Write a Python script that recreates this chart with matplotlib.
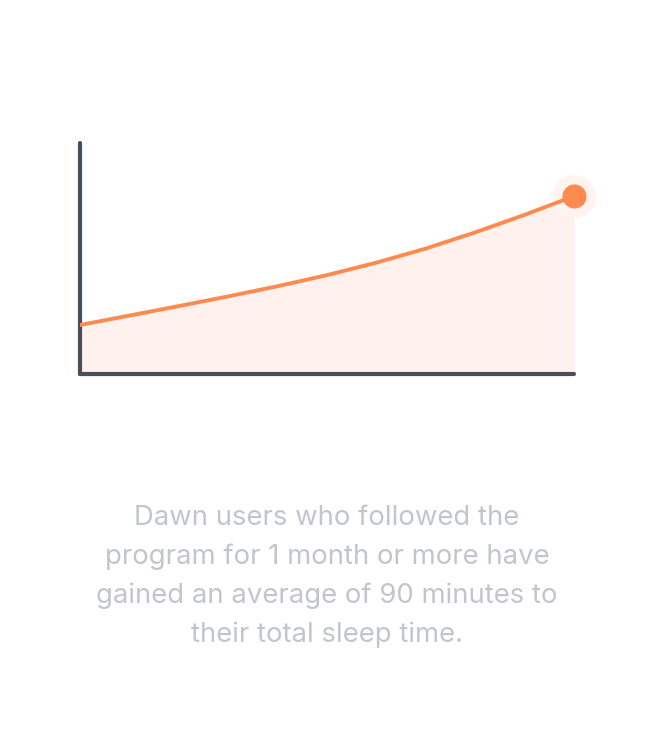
import matplotlib.pyplot as plt

# Sleep-time growth curve (x: 0-100, y: 0-100 of axes)
months = [0, 10, 20, 30, 40, 50, 60, 70, 80, 90, 100]
gain = [21.2, 25.3, 29.4, 33.6, 38.0, 42.8, 48.2, 54.3, 61.3, 68.9, 77.0]

caption = [
    "Dawn users who followed the",
    "program for 1 month or more have",
    "gained an average of 90 minutes to",
    "their total sleep time.",
]

orange = '#FF8A4F'
fill_col = '#FFF2EE'
axis_col = '#4A4E5A'
text_col = '#C3C5CE'

fig = plt.figure(figsize=(6.54, 7.34), dpi=100)
W, H = 654, 734

# axes box placed on the spine lines
ax = fig.add_axes([80 / W, (H - 374) / H, 494 / W, 231 / H])
ax.set_xlim(0, 100)
ax.set_ylim(0, 100)

ax.fill_between(months, 0, gain, color=fill_col, lw=0, zorder=1)
ax.plot(months, gain, color=orange, lw=2.8, solid_capstyle='round',
        solid_joinstyle='round', zorder=3)

# end point with soft halo
ax.scatter([months[-1]], [gain[-1]], s=960, color='#FFF4F0', lw=0, zorder=2, clip_on=False)
ax.scatter([months[-1]], [gain[-1]], s=300, color=orange, lw=0, zorder=4, clip_on=False)

for side in ['top', 'right']:
    ax.spines[side].set_visible(False)
for side in ['left', 'bottom']:
    ax.spines[side].set_color(axis_col)
    ax.spines[side].set_linewidth(3)
    ax.spines[side].set_capstyle('round')
ax.set_xticks([])
ax.set_yticks([])
ax.patch.set_alpha(0)

# caption lines
baselines = [525, 564, 603, 642]
for line, yb in zip(caption, baselines):
    fig.text(0.5, 1 - yb / H, line, ha='center', va='baseline',
             color=text_col, fontsize=19.8, family=['Inter', 'DejaVu Sans'])

fig.savefig('out.png', dpi=100, facecolor='white')
